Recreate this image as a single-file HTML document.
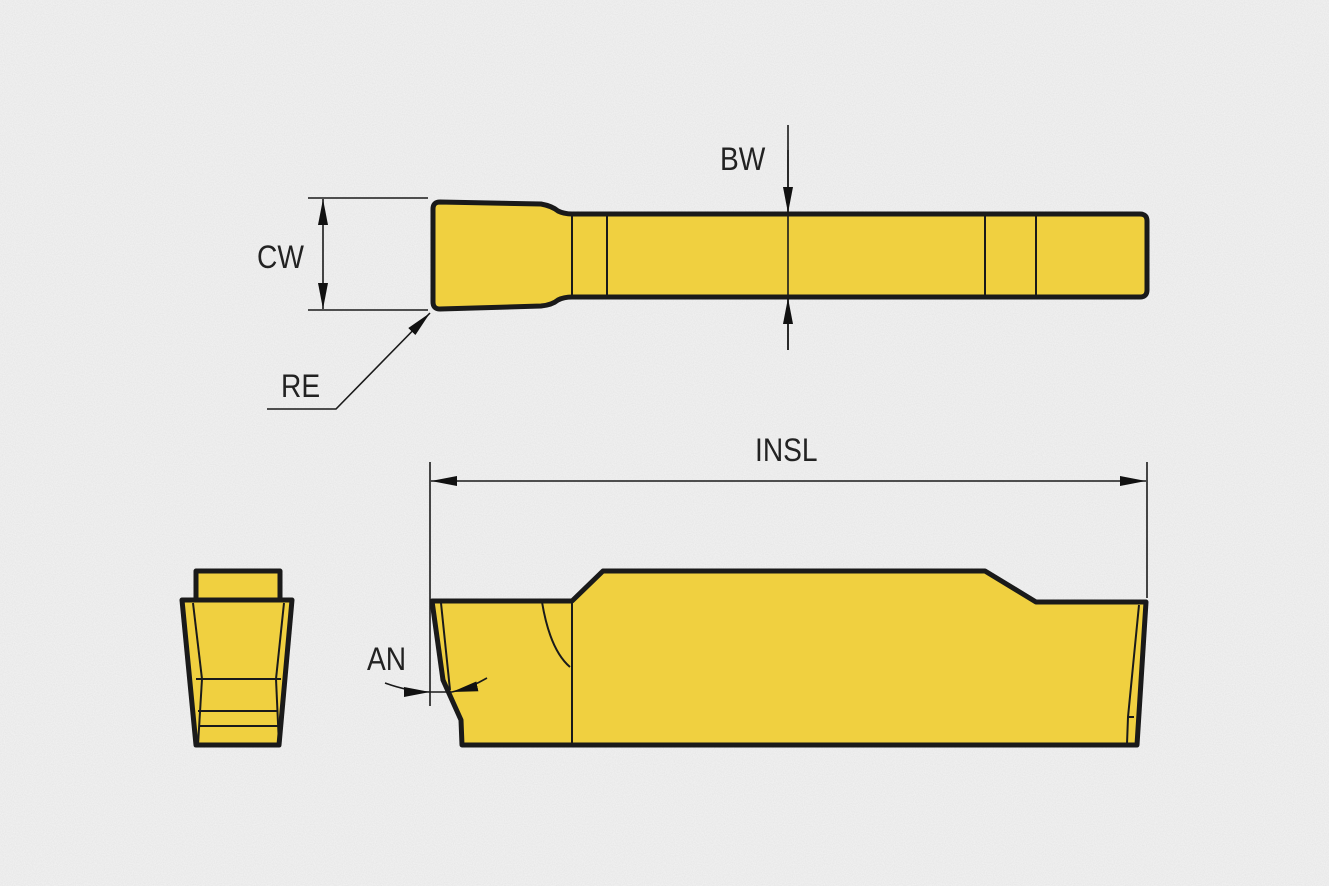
<!DOCTYPE html>
<html><head><meta charset="utf-8"><style>
html,body{margin:0;padding:0;background:#efefef;}
svg{display:block}
text{font-family:"Liberation Sans",sans-serif;font-size:32px;fill:#222;}
</style></head><body>
<svg width="1329" height="886" viewBox="0 0 1329 886" xmlns="http://www.w3.org/2000/svg">
<defs>
<filter id="n"><feTurbulence type="fractalNoise" baseFrequency="0.9" numOctaves="2" seed="3"/><feColorMatrix values="0 0 0 0 0.5 0 0 0 0 0.5 0 0 0 0 0.5 0 0 0 -1.2 0.9"/></filter>
<marker id="a" viewBox="0 0 26 10" refX="26" refY="5" markerWidth="26" markerHeight="10" markerUnits="userSpaceOnUse" orient="auto"><path d="M0,0L26,5L0,10z" fill="#111"/></marker>
</defs>
<rect width="1329" height="886" fill="#f0f0f0"/>
<rect width="1329" height="886" filter="url(#n)" opacity="0.25"/>
<g stroke="#1a1a1a" fill="#f0d040" stroke-linejoin="round">
<path d="M440,202 L541,204 Q552,206 558,211 Q564,214 572,214 L1140,214 Q1147,214 1147,221 L1147,290 Q1147,297 1140,297 L572,297 Q564,297 558,300 Q552,305 541,306 L440,309 Q433,309 433,302 L433,209 Q433,202 440,202Z" stroke-width="5"/>
<path d="M432,601 L572,601 L603,571 L985,571 L1036,602 L1146,602 L1137,745 L462,745 L461,720 L443,680 Z" stroke-width="5"/>
<path d="M196,571 L280,571 L280,600 L196,600Z" stroke-width="5"/>
<path d="M182,600 L292,600 L279,745 L196,745Z" stroke-width="5"/>
</g>
<g stroke="#1a1a1a" stroke-width="2" fill="none">
<line x1="572" y1="215" x2="572" y2="296"/>
<line x1="607" y1="215" x2="607" y2="296"/>
<line x1="985" y1="215" x2="985" y2="296"/>
<line x1="1036" y1="215" x2="1036" y2="296"/>
<line x1="572" y1="602" x2="572" y2="744"/>
<path d="M542,602 Q550,650 570,667"/>
<line x1="441" y1="603" x2="450" y2="690"/>
<path d="M1139,605 L1128,717 L1127,744"/>
<line x1="1128" y1="717" x2="1134" y2="717"/>
<line x1="193" y1="603" x2="202" y2="679"/>
<line x1="284" y1="603" x2="276" y2="679"/>
<line x1="196" y1="679" x2="281" y2="679"/>
<line x1="198" y1="711" x2="278" y2="711"/>
<line x1="199" y1="726" x2="278" y2="726"/>
<line x1="202" y1="679" x2="198" y2="745"/>
<line x1="276" y1="679" x2="279" y2="745"/>
</g>
<g stroke="#1a1a1a" stroke-width="1.6" fill="none">
<line x1="308" y1="198" x2="428" y2="198"/>
<line x1="308" y1="310" x2="428" y2="310"/>
<line x1="323" y1="254" x2="323" y2="199" marker-end="url(#a)"/>
<line x1="323" y1="254" x2="323" y2="309" marker-end="url(#a)"/>
<line x1="788" y1="125" x2="788" y2="350"/>
<line x1="788" y1="150" x2="788" y2="213" marker-end="url(#a)"/>
<line x1="788" y1="350" x2="788" y2="298" marker-end="url(#a)"/>
<path d="M267,409 L336,409 L430,313" marker-end="url(#a)"/>
<line x1="430" y1="462" x2="430" y2="706"/>
<line x1="1147" y1="462" x2="1147" y2="598"/>
<line x1="790" y1="481" x2="431" y2="481" marker-end="url(#a)"/>
<line x1="790" y1="481" x2="1146" y2="481" marker-end="url(#a)"/>
<path d="M385,683 Q410,692 430,692" marker-end="url(#a)"/>
<path d="M430,692 Q440,692 452,692"/>
<path d="M487,678 Q470,688 452,692" marker-end="url(#a)"/>
</g>
<text x="257" y="268" transform="translate(257,0) scale(0.88,1) translate(-257,0)">CW</text>
<text x="720" y="170" transform="translate(720,0) scale(0.88,1) translate(-720,0)">BW</text>
<text x="281" y="397" transform="translate(281,0) scale(0.88,1) translate(-281,0)">RE</text>
<text x="755" y="461" transform="translate(755,0) scale(0.88,1) translate(-755,0)">INSL</text>
<text x="367" y="670" transform="translate(367,0) scale(0.88,1) translate(-367,0)">AN</text>
</svg>
</body></html>
